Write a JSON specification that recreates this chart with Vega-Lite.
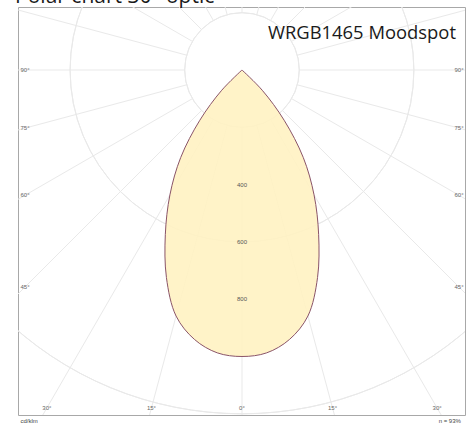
{
  "$schema": "https://vega.github.io/schema/vega-lite/v6.json",
  "width": 447,
  "height": 408,
  "autosize": {"type": "none"},
  "padding": {"left": 18, "top": 7, "right": 8, "bottom": 8},
  "background": "white",
  "config": {"view": {"stroke": "#a8a8a8", "strokeWidth": 1}},
  "datasets": {
    "beam": [
      {"g": -90, "cd": 0}, {"g": -85, "cd": 0}, {"g": -80, "cd": 0}, {"g": -75, "cd": 0},
      {"g": -70, "cd": 0}, {"g": -65, "cd": 0}, {"g": -60, "cd": 0}, {"g": -55, "cd": 0},
      {"g": -50, "cd": 0}, {"g": -45, "cd": 100}, {"g": -40, "cd": 229}, {"g": -35, "cd": 373},
      {"g": -30, "cd": 503}, {"g": -25, "cd": 633}, {"g": -20, "cd": 771}, {"g": -15, "cd": 889},
      {"g": -10, "cd": 955}, {"g": -5, "cd": 991}, {"g": 0, "cd": 1000}, {"g": 5, "cd": 991},
      {"g": 10, "cd": 955}, {"g": 15, "cd": 889}, {"g": 20, "cd": 771}, {"g": 25, "cd": 633},
      {"g": 30, "cd": 503}, {"g": 35, "cd": 373}, {"g": 40, "cd": 229}, {"g": 45, "cd": 100},
      {"g": 50, "cd": 0}, {"g": 55, "cd": 0}, {"g": 60, "cd": 0}, {"g": 65, "cd": 0},
      {"g": 70, "cd": 0}, {"g": 75, "cd": 0}, {"g": 80, "cd": 0}, {"g": 85, "cd": 0},
      {"g": 90, "cd": 0}
    ],
    "rings": [{"r": 200}, {"r": 400}, {"r": 600}, {"r": 800}, {"r": 1000}, {"r": 1200}, {"r": 1400}],
    "spokes": [
      {"g": 0}, {"g": 15}, {"g": 30}, {"g": 45}, {"g": 60}, {"g": 75}, {"g": 90}, {"g": 105},
      {"g": 120}, {"g": 135}, {"g": 150}, {"g": 165}, {"g": 180}, {"g": 195}, {"g": 210},
      {"g": 225}, {"g": 240}, {"g": 255}, {"g": 270}, {"g": 285}, {"g": 300}, {"g": 315},
      {"g": 330}, {"g": 345}
    ],
    "angleLabels": [
      {"g": -90, "t": "90°"}, {"g": -75, "t": "75°"}, {"g": -60, "t": "60°"}, {"g": -45, "t": "45°"},
      {"g": -30, "t": "30°"}, {"g": -15, "t": "15°"}, {"g": 0, "t": "0°"}, {"g": 15, "t": "15°"},
      {"g": 30, "t": "30°"}, {"g": 45, "t": "45°"}, {"g": 60, "t": "60°"}, {"g": 75, "t": "75°"},
      {"g": 90, "t": "90°"}
    ],
    "cdLabels": [{"v": 400, "t": "400"}, {"v": 600, "t": "600"}, {"v": 800, "t": "800"}]
  },
  "layer": [
    {
      "data": {"name": "rings"},
      "mark": {"type": "arc", "theta": 0, "theta2": 6.2832, "fill": null, "fillOpacity": 0, "stroke": "#e9e9e9", "strokeWidth": 1, "clip": true},
      "encoding": {
        "x": {"datum": 0, "type": "quantitative", "axis": null, "scale": {"domain": [-781.8, 778.4], "nice": false, "zero": false}},
        "y": {"datum": 0, "type": "quantitative", "axis": null, "scale": {"domain": [-219.9, 1204.2], "nice": false, "zero": false, "reverse": true}},
        "radius": {"field": "r", "type": "quantitative", "legend": null,
                   "scale": {"type": "linear", "domain": [0, 1000], "range": [0, 286.5], "zero": true, "nice": false}}
      }
    },
    {
      "data": {"name": "spokes"},
      "transform": [
        {"calculate": "200*sin(datum.g*PI/180)", "as": "x"},
        {"calculate": "200*cos(datum.g*PI/180)", "as": "y"},
        {"calculate": "2200*sin(datum.g*PI/180)", "as": "x2"},
        {"calculate": "2200*cos(datum.g*PI/180)", "as": "y2"}
      ],
      "mark": {"type": "rule", "stroke": "#e9e9e9", "strokeWidth": 1, "clip": true},
      "encoding": {
        "x": {"field": "x", "type": "quantitative", "axis": null, "scale": {"domain": [-781.8, 778.4], "nice": false, "zero": false}},
        "y": {"field": "y", "type": "quantitative", "axis": null, "scale": {"domain": [-219.9, 1204.2], "nice": false, "zero": false, "reverse": true}},
        "x2": {"field": "x2"},
        "y2": {"field": "y2"}
      }
    },
    {
      "data": {"name": "beam"},
      "transform": [
        {"calculate": "datum.cd*sin(datum.g*PI/180)", "as": "x"},
        {"calculate": "datum.cd*cos(datum.g*PI/180)", "as": "y"}
      ],
      "mark": {"type": "line", "interpolate": "catmull-rom", "fill": "#fff2c2", "fillOpacity": 0.9, "stroke": "#8a5468", "strokeWidth": 1, "clip": true},
      "encoding": {
        "x": {"field": "x", "type": "quantitative", "axis": null, "scale": {"domain": [-781.8, 778.4], "nice": false, "zero": false}},
        "y": {"field": "y", "type": "quantitative", "axis": null, "scale": {"domain": [-219.9, 1204.2], "nice": false, "zero": false, "reverse": true}},
        "order": {"field": "g", "type": "quantitative"}
      }
    },
    {
      "data": {"name": "angleLabels"},
      "transform": [
        {"calculate": "abs(datum.g) >= 45 ? (datum.g < 0 ? -757.4 : 757.4) : 1179.8*tan(datum.g*PI/180)", "as": "x"},
        {"calculate": "abs(datum.g) >= 45 ? 757.4/tan(abs(datum.g)*PI/180) : 1179.8", "as": "y"}
      ],
      "mark": {"type": "text", "fontSize": 6, "font": "Liberation Sans", "fill": "#666666", "align": "center", "baseline": "middle"},
      "encoding": {
        "x": {"field": "x", "type": "quantitative", "axis": null, "scale": {"domain": [-781.8, 778.4], "nice": false, "zero": false}},
        "y": {"field": "y", "type": "quantitative", "axis": null, "scale": {"domain": [-219.9, 1204.2], "nice": false, "zero": false, "reverse": true}},
        "text": {"field": "t"}
      }
    },
    {
      "data": {"name": "cdLabels"},
      "mark": {"type": "text", "fontSize": 6, "font": "Liberation Sans", "fill": "#555555", "align": "center", "baseline": "middle"},
      "encoding": {
        "x": {"datum": 0, "type": "quantitative", "axis": null, "scale": {"domain": [-781.8, 778.4], "nice": false, "zero": false}},
        "y": {"field": "v", "type": "quantitative", "axis": null, "scale": {"domain": [-219.9, 1204.2], "nice": false, "zero": false, "reverse": true}},
        "text": {"field": "t"}
      }
    },
    {
      "data": {"values": [{"t": "WRGB1465 Moodspot"}]},
      "mark": {"type": "text", "fontSize": 18.4, "font": "Open Sans", "fill": "#1a1a1a", "align": "left", "baseline": "middle"},
      "encoding": {
        "x": {"datum": 90.7, "type": "quantitative", "axis": null, "scale": {"domain": [-781.8, 778.4], "nice": false, "zero": false}},
        "y": {"datum": -129, "type": "quantitative", "axis": null, "scale": {"domain": [-219.9, 1204.2], "nice": false, "zero": false, "reverse": true}},
        "text": {"field": "t"}
      }
    },
    {
      "data": {"values": [{"t": "Polar chart 30° optic"}]},
      "mark": {"type": "text", "fontSize": 21, "font": "Open Sans", "fill": "#1a1a1a", "align": "left", "baseline": "alphabetic"},
      "encoding": {
        "x": {"datum": -792, "type": "quantitative", "axis": null, "scale": {"domain": [-781.8, 778.4], "nice": false, "zero": false}},
        "y": {"datum": -235.6, "type": "quantitative", "axis": null, "scale": {"domain": [-219.9, 1204.2], "nice": false, "zero": false, "reverse": true}},
        "text": {"field": "t"}
      }
    },
    {
      "data": {"values": [{"t": "cd/klm"}]},
      "mark": {"type": "text", "fontSize": 6, "font": "Liberation Sans", "fill": "#444444", "align": "left", "baseline": "top"},
      "encoding": {
        "x": {"datum": -773, "type": "quantitative", "axis": null, "scale": {"domain": [-781.8, 778.4], "nice": false, "zero": false}},
        "y": {"datum": 1214, "type": "quantitative", "axis": null, "scale": {"domain": [-219.9, 1204.2], "nice": false, "zero": false, "reverse": true}},
        "text": {"field": "t"}
      }
    },
    {
      "data": {"values": [{"t": "η = 93%"}]},
      "mark": {"type": "text", "fontSize": 6, "font": "Liberation Sans", "fill": "#444444", "align": "right", "baseline": "top"},
      "encoding": {
        "x": {"datum": 764, "type": "quantitative", "axis": null, "scale": {"domain": [-781.8, 778.4], "nice": false, "zero": false}},
        "y": {"datum": 1214, "type": "quantitative", "axis": null, "scale": {"domain": [-219.9, 1204.2], "nice": false, "zero": false, "reverse": true}},
        "text": {"field": "t"}
      }
    }
  ]
}
